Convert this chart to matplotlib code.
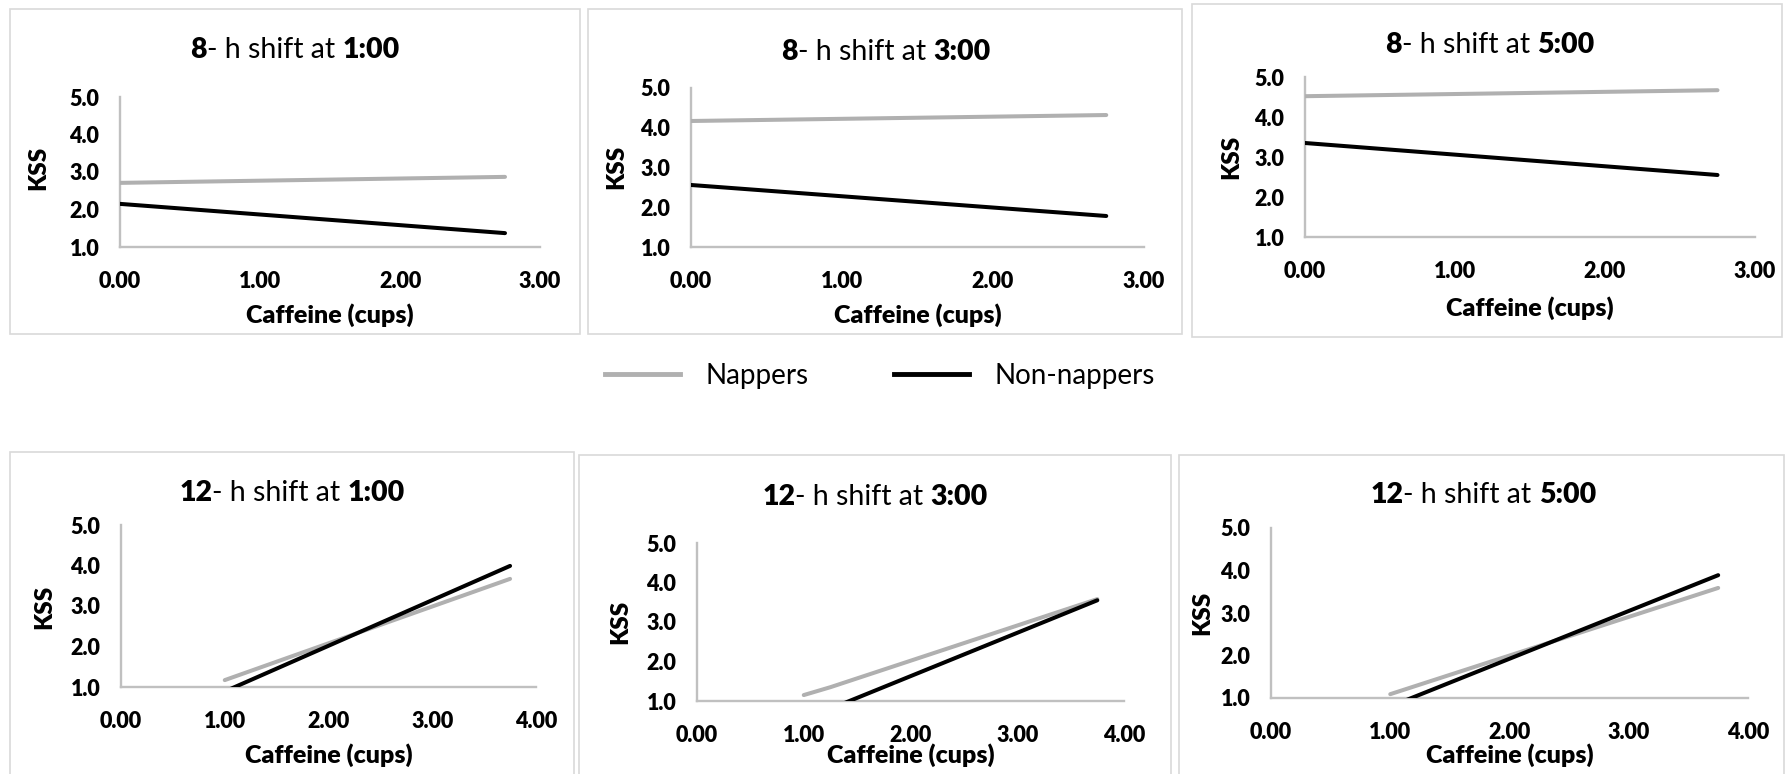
import matplotlib
matplotlib.use("Agg")
import matplotlib.pyplot as plt
from matplotlib.patches import Rectangle
from matplotlib.lines import Line2D

plt.rcParams['font.family'] = ['Lato', 'DejaVu Sans']
plt.rcParams['font.weight'] = 'bold'

W, H = 1791, 774

# ---- data ----
shift_len = ["8", "8", "8", "12", "12", "12"]
shift_start = ["1:00", "3:00", "5:00", "1:00", "3:00", "5:00"]
series_names = ["Nappers", "Non-nappers"]

xticks_8h = [0, 1, 2, 3]
xticks_12h = [0, 1, 2, 3, 4]
yticks = [1, 2, 3, 4, 5]

# 8-h shifts
nap_x_8h_1 = [0.0, 2.75]
nap_y_8h_1 = [2.71, 2.87]
non_x_8h_1 = [0.0, 2.75]
non_y_8h_1 = [2.15, 1.37]

nap_x_8h_3 = [0.0, 2.75]
nap_y_8h_3 = [4.17, 4.32]
non_x_8h_3 = [0.0, 2.75]
non_y_8h_3 = [2.56, 1.78]

nap_x_8h_5 = [0.0, 2.75]
nap_y_8h_5 = [4.52, 4.67]
non_x_8h_5 = [0.0, 2.75]
non_y_8h_5 = [3.35, 2.55]

# 12-h shifts
nap_x_12h_1 = [1.0, 3.75]
nap_y_12h_1 = [1.17, 3.67]
non_x_12h_1 = [1.0, 3.75]
non_y_12h_1 = [0.89, 3.99]

nap_x_12h_3 = [1.0, 1.25, 3.75]
nap_y_12h_3 = [1.15, 1.35, 3.58]
non_x_12h_3 = [1.0, 3.75]
non_y_12h_3 = [0.53, 3.55]

nap_x_12h_5 = [1.0, 3.75]
nap_y_12h_5 = [1.09, 3.59]
non_x_12h_5 = [1.0, 3.75]
non_y_12h_5 = [0.80, 3.89]

NAP_COLOR = "#b0b0b0"
NON_COLOR = "#000000"
AXIS_COLOR = "#c0c0c0"
BORDER_COLOR = "#d9d9d9"

fig = plt.figure(figsize=(W / 100, H / 100), dpi=100)


def px_rect(x0, y0, x1, y1):
    return [x0 / W, 1 - y1 / H, (x1 - x0) / W, (y1 - y0) / H]


def draw_title(cx, cy, pieces, size=20.5):
    renderer = fig.canvas.get_renderer()
    texts = []
    widths = []
    for s, bold in pieces:
        t = fig.text(0, cy / H, s, fontsize=size, va="center", ha="left",
                     fontweight="heavy" if bold else "normal")
        bb = t.get_window_extent(renderer)
        texts.append(t)
        widths.append(bb.width)
    total = sum(widths)
    x = cx - total / 2
    for t, w in zip(texts, widths):
        t.set_x(x / W)
        x += w


panels = [
    # border box, axes box, xlabel y, ylabel (x, y), title (x, y)
    dict(box=(10, 9, 580, 334), ax=(120, 97, 540, 247), xl=315, yl=(38, 168), ti=(295, 50)),
    dict(box=(588, 9, 1182, 334), ax=(691, 88, 1144, 247), xl=315, yl=(616, 167), ti=(886, 52)),
    dict(box=(1192, 4, 1782, 337), ax=(1305, 77, 1755, 237), xl=308, yl=(1231, 157), ti=(1490, 45)),
    dict(box=(10, 452, 574, 780), ax=(121, 525, 536, 687), xl=755, yl=(44, 607), ti=(292, 493)),
    dict(box=(579, 455, 1171, 780), ax=(697, 543, 1124, 701), xl=755, yl=(620, 622), ti=(875, 497)),
    dict(box=(1179, 455, 1784, 780), ax=(1271, 528, 1748, 698), xl=755, yl=(1202, 613), ti=(1483, 495)),
]

nap_x = [nap_x_8h_1, nap_x_8h_3, nap_x_8h_5, nap_x_12h_1, nap_x_12h_3, nap_x_12h_5]
nap_y = [nap_y_8h_1, nap_y_8h_3, nap_y_8h_5, nap_y_12h_1, nap_y_12h_3, nap_y_12h_5]
non_x = [non_x_8h_1, non_x_8h_3, non_x_8h_5, non_x_12h_1, non_x_12h_3, non_x_12h_5]
non_y = [non_y_8h_1, non_y_8h_3, non_y_8h_5, non_y_12h_1, non_y_12h_3, non_y_12h_5]

for i, p in enumerate(panels):
    bx0, by0, bx1, by1 = p["box"]
    fig.patches.append(Rectangle((bx0 / W, 1 - by1 / H), (bx1 - bx0) / W, (by1 - by0) / H,
                                 transform=fig.transFigure, fill=False,
                                 edgecolor=BORDER_COLOR, linewidth=1.2))

    ax = fig.add_axes(px_rect(*p["ax"]))
    ax.patch.set_alpha(0)
    ax.plot(nap_x[i], nap_y[i], color=NAP_COLOR, lw=2.9, solid_capstyle="round")
    ax.plot(non_x[i], non_y[i], color=NON_COLOR, lw=2.9, solid_capstyle="round")

    xt = xticks_8h if i < 3 else xticks_12h
    ax.set_xlim(xt[0], xt[-1])
    ax.set_ylim(yticks[0], yticks[-1])
    ax.set_xticks(xt, [f"{v:.2f}" for v in xt], fontweight="heavy")
    ax.set_yticks(yticks, [f"{v:.1f}" for v in yticks], fontweight="heavy")
    ax.tick_params(length=0, labelsize=15.5)
    ax.tick_params(axis="x", pad=17)
    ax.tick_params(axis="y", pad=15)
    for side in ["top", "right"]:
        ax.spines[side].set_visible(False)
    for side in ["left", "bottom"]:
        ax.spines[side].set_color(AXIS_COLOR)
        ax.spines[side].set_linewidth(1.7)
        ax.spines[side].set_zorder(0.5)

    axx0, axy0, axx1, axy1 = p["ax"]
    fig.text((axx0 + axx1) / 2 / W, 1 - p["xl"] / H, "Caffeine (cups)",
             fontsize=18, fontweight="heavy", ha="center", va="center")
    fig.text(p["yl"][0] / W, 1 - p["yl"][1] / H, "KSS", fontsize=17.5,
             fontweight="heavy", ha="center", va="center", rotation=90)

    draw_title(p["ti"][0], H - p["ti"][1],
               [(shift_len[i], True), ("- h shift at ", False), (shift_start[i], True)])

handles = [Line2D([], [], color=NAP_COLOR, lw=3.5),
           Line2D([], [], color=NON_COLOR, lw=3.5)]
fig.legend(handles, series_names, loc="center", bbox_to_anchor=(880 / W, 1 - 376 / H),
           ncol=2, frameon=False, prop={"size": 20, "weight": "normal"},
           handlelength=2.7, handletextpad=0.9, columnspacing=3.1)

fig.savefig("out.png", dpi=100)
